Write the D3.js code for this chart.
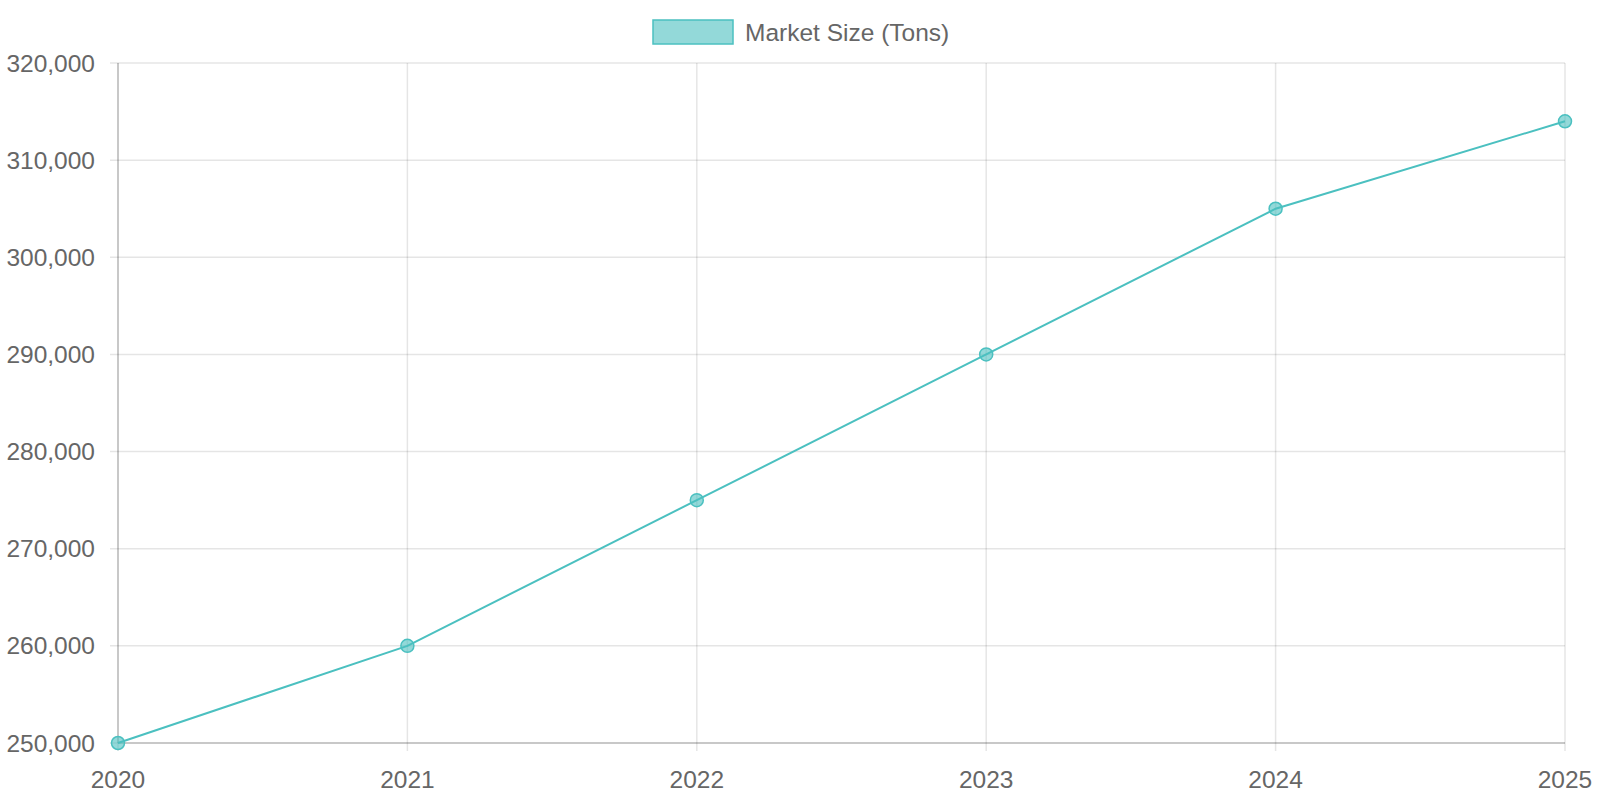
<!DOCTYPE html>
<html><head><meta charset="utf-8">
<script src="https://cdn.jsdelivr.net/npm/d3@7"></script>
<style>html,body{margin:0;padding:0;background:#fff;}svg{display:block;font-family:"Liberation Sans",Arial,sans-serif;}</style>
</head><body>
<script>
const years = ["2020","2021","2022","2023","2024","2025"];
const marketSize = [250000, 260000, 275000, 290000, 305000, 314000];
const yTicks = [250000,260000,270000,280000,290000,300000,310000,320000];
const seriesName = "Market Size (Tons)";

const W=1600,H=800;
const L=118,R=1565,T=63,B=743;
const svg=d3.select("body").append("svg").attr("width",W).attr("height",H);
const x=d3.scalePoint().domain(years).range([L,R]);
const y=d3.scaleLinear().domain([250000,320000]).range([B,T]);
const grid="rgba(0,0,0,0.1)", text="#666", col="rgb(75,192,192)";
const fmt=d3.format(",");
const fs=24.5;

// horizontal grid
const gy=svg.append("g");
yTicks.forEach(t=>{
  gy.append("line").attr("x1",L-8).attr("x2",R).attr("y1",y(t)).attr("y2",y(t)).attr("stroke",grid).attr("stroke-width",1.5);
  gy.append("text").attr("x",95).attr("y",y(t)).attr("dy","0.35em").attr("text-anchor","end").attr("fill",text).attr("font-size",fs).text(fmt(t));
});
// vertical grid
const gx=svg.append("g");
years.forEach(v=>{
  gx.append("line").attr("x1",x(v)).attr("x2",x(v)).attr("y1",T).attr("y2",B+8).attr("stroke",grid).attr("stroke-width",1.5);
  gx.append("text").attr("x",x(v)).attr("y",788).attr("text-anchor","middle").attr("fill",text).attr("font-size",fs).text(v);
});
// axis borders
svg.append("line").attr("x1",L).attr("x2",L).attr("y1",T).attr("y2",B).attr("stroke","rgba(0,0,0,0.2)").attr("stroke-width",1.5);
svg.append("line").attr("x1",L).attr("x2",R).attr("y1",B).attr("y2",B).attr("stroke","rgba(0,0,0,0.2)").attr("stroke-width",1.5);

// line
const data=years.map((yr,i)=>({yr,v:marketSize[i]}));
svg.append("path").datum(data).attr("fill","none").attr("stroke",col).attr("stroke-width",2)
  .attr("d",d3.line().x(d=>x(d.yr)).y(d=>y(d.v)));
svg.selectAll("circle.pt").data(data).enter().append("circle").attr("class","pt")
  .attr("cx",d=>x(d.yr)).attr("cy",d=>y(d.v)).attr("r",6.5)
  .attr("fill","rgba(75,192,192,0.6)").attr("stroke",col).attr("stroke-width",1.5);

// legend
svg.append("rect").attr("x",653).attr("y",20).attr("width",80).attr("height",24)
  .attr("fill","rgba(75,192,192,0.6)").attr("stroke",col).attr("stroke-width",1.5);
svg.append("text").attr("x",745).attr("y",32).attr("dy","0.35em").attr("fill",text).attr("font-size",fs).text(seriesName);
</script>
</body></html>
